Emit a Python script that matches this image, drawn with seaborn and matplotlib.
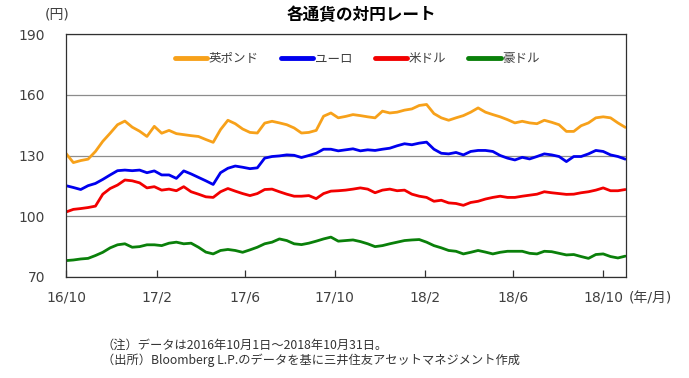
import numpy as np
import pandas as pd
import matplotlib
matplotlib.use("Agg")
import matplotlib.pyplot as plt
import seaborn as sns

start_date = "2016-10-01"
sample_step = "10D"

gbp = [131, 126.5, 127.5, 128.2, 132, 137, 141, 145.2, 147, 144, 142, 139.4, 144.4, 141, 142.4, 140.8, 140.3, 139.8, 139.4,
       137.9,
       136.5, 142.8, 147.4, 145.7, 143.1, 141.4, 141.1, 146, 146.9, 146.1, 145.2, 143.6, 141.1, 141.4, 142.4, 149.4, 151, 148.6,
       149.3,
       150.2, 149.7, 149.1, 148.6, 151.9, 151, 151.4, 152.4, 153, 154.7, 155.2, 150.7, 148.6, 147.4, 148.6, 149.7, 151.4, 153.5,
       151.4,
       150.2, 149.1, 147.7, 146.1, 146.9, 146.1, 145.7, 147.4, 146.4, 145.2, 141.9, 141.9, 144.7, 146.1, 148.6, 149.1, 148.6, 146.1, 143.9]

eur = [115.1, 114.2, 113.2, 115.1, 116.2, 118.2, 120.4, 122.5, 122.8, 122.5, 122.8, 121.5, 122.4, 120.4, 120.4, 118.7, 122.4, 120.9, 119.2,
       117.5,
       115.7, 121.5, 123.7, 124.8, 124.2, 123.5, 123.9, 128.7, 129.5, 129.8, 130.3, 130.1, 129, 130, 131.1, 133.1, 133.1, 132.3,
       132.8,
       133.3, 132.3, 132.8, 132.5, 133.1, 133.6, 134.8, 135.8, 135.3, 136.1, 136.6, 133.1, 131.1, 130.8, 131.5, 130.3, 132, 132.5,
       132.5,
       132, 130, 128.7, 127.8, 129.1, 128.3, 129.5, 130.8, 130.3, 129.5, 127, 129.5, 129.5, 130.8, 132.5, 132, 130.3, 129.5, 128.2]

usd = [102.1, 103.4, 103.8, 104.3, 105, 110.9, 113.7, 115.4, 117.9, 117.5, 116.5, 114, 114.6, 112.9, 113.4, 112.6, 114.6, 112.1, 110.9,
       109.6,
       109.3, 112.1, 113.7, 112.4, 111.2, 110.2, 111.2, 113.2, 113.4, 112.1, 110.9, 109.9, 109.9, 110.2, 108.7, 111.2, 112.4, 112.6,
       112.9,
       113.4, 114, 113.4, 111.6, 112.9, 113.4, 112.6, 112.9, 110.9, 109.9, 109.3, 107.4, 107.9, 106.6, 106.3, 105.4, 106.8, 107.4,
       108.5,
       109.3, 109.9, 109.3, 109.3, 109.9, 110.4, 110.9, 112.1, 111.6, 111.2, 110.8, 110.9, 111.6, 112.1, 112.9, 114, 112.6, 112.6, 113.2]

aud = [78.1, 78.4, 78.9, 79.2, 80.6, 82.2, 84.4, 85.9, 86.4, 84.7, 85, 85.9, 85.9, 85.5, 86.7, 87.2, 86.4, 86.7, 84.7,
       82.3,
       81.4, 83.1, 83.6, 83.1, 82.2, 83.4, 84.7, 86.4, 87.2, 88.8, 88, 86.4, 86, 86.7, 87.7, 88.8, 89.7, 87.7,
       88,
       88.3, 87.5, 86.4, 85, 85.5, 86.4, 87.2, 88, 88.3, 88.5, 87.2, 85.5, 84.4, 83.1, 82.7, 81.4, 82.2, 83.1,
       82.3,
       81.4, 82.2, 82.7, 82.7, 82.7, 81.7, 81.4, 82.7, 82.5, 81.7, 80.9, 81.1, 80.1, 79.2, 81.1, 81.4, 80.1, 79.4, 80.3]

series_names = ["英ポンド", "ユーロ", "米ドル", "豪ドル"]
series_colors = ["#F7A11A", "#0000EE", "#F20000", "#0A800A"]

tick_dates = ["2016-10-01", "2017-02-01", "2017-06-01", "2017-10-01", "2018-02-01", "2018-06-01", "2018-10-01"]
tick_labels = ["16/10", "17/2", "17/6", "17/10", "18/2", "18/6", "18/10"]
y_ticks = [70, 100, 130, 160, 190]

title = "各通貨の対円レート"
note_lines = ["（注）データは2016年10月1日～2018年10月31日。",
              "（出所）Bloomberg L.P.のデータを基に三井住友アセットマネジメント作成"]

# ---- style ----
sns.set_theme(style="white")
plt.rcParams['font.family'] = ['DejaVu Sans', 'Noto Sans CJK JP']
TXT = "#404040"

dates = pd.date_range(start_date, periods=len(gbp), freq=sample_step)
frames = []
for name, vals in zip(series_names, [gbp, eur, usd, aud]):
    frames.append(pd.DataFrame({"date": dates, "rate": vals, "currency": name}))
df = pd.concat(frames, ignore_index=True)

W, H = 689, 378
fig = plt.figure(figsize=(W / 100, H / 100), dpi=100)
ax = fig.add_axes([66 / W, 1 - 277 / H, 560 / W, 243 / H])

sns.lineplot(data=df, x="date", y="rate", hue="currency", hue_order=series_names,
             palette=dict(zip(series_names, series_colors)), linewidth=2.0,
             ax=ax, legend=False)

ax.set_xlim(pd.Timestamp("2016-10-01"), pd.Timestamp("2018-11-01"))
ax.set_ylim(70, 190)
ax.set_yticks(y_ticks)
ax.set_xticks(pd.to_datetime(tick_dates))
ax.set_xticklabels(tick_labels)
ax.set_xlabel("")
ax.set_ylabel("")

ax.set_axisbelow(True)
ax.yaxis.grid(True, color="#8C8C8C", linewidth=0.9)
ax.xaxis.grid(False)
for s in ax.spines.values():
    s.set_visible(True)
    s.set_color("#303030")
    s.set_linewidth(0.9)

ax.tick_params(axis="x", direction="in", length=5, width=0.9, color="#303030",
               labelsize=10, labelcolor=TXT, pad=10, bottom=True, top=False)
ax.tick_params(axis="y", length=0, labelsize=10, labelcolor=TXT, pad=15, left=True)

leg = ax.legend(ax.lines[:4], series_names, loc="center", bbox_to_anchor=(0.52, 0.898),
                ncol=4, frameon=False, fontsize=9, handlelength=2.6,
                handletextpad=0.1, columnspacing=1.8)
for line in leg.get_lines():
    line.set_linewidth(3.5)
for t in leg.get_texts():
    t.set_color(TXT)

fig.text(361 / W, 1 - 15 / H, title, ha="center", va="center", fontsize=12,
         fontweight="bold", color="black", family=["Noto Sans CJK JP"])
fig.text(45 / W, 1 - 15 / H, "(円)", ha="left", va="center", fontsize=10, color=TXT)
fig.text(629 / W, 1 - 299 / H, "(年/月)", ha="left", va="center", fontsize=10, color=TXT)
fig.text(102 / W, 1 - 345 / H, note_lines[0], ha="left", va="center", fontsize=8.8,
         color="#333333", family=["Noto Sans CJK JP"])
fig.text(102 / W, 1 - 360 / H, note_lines[1], ha="left", va="center", fontsize=8.8,
         color="#333333", family=["Noto Sans CJK JP"])

fig.savefig("out.png", dpi=100)
